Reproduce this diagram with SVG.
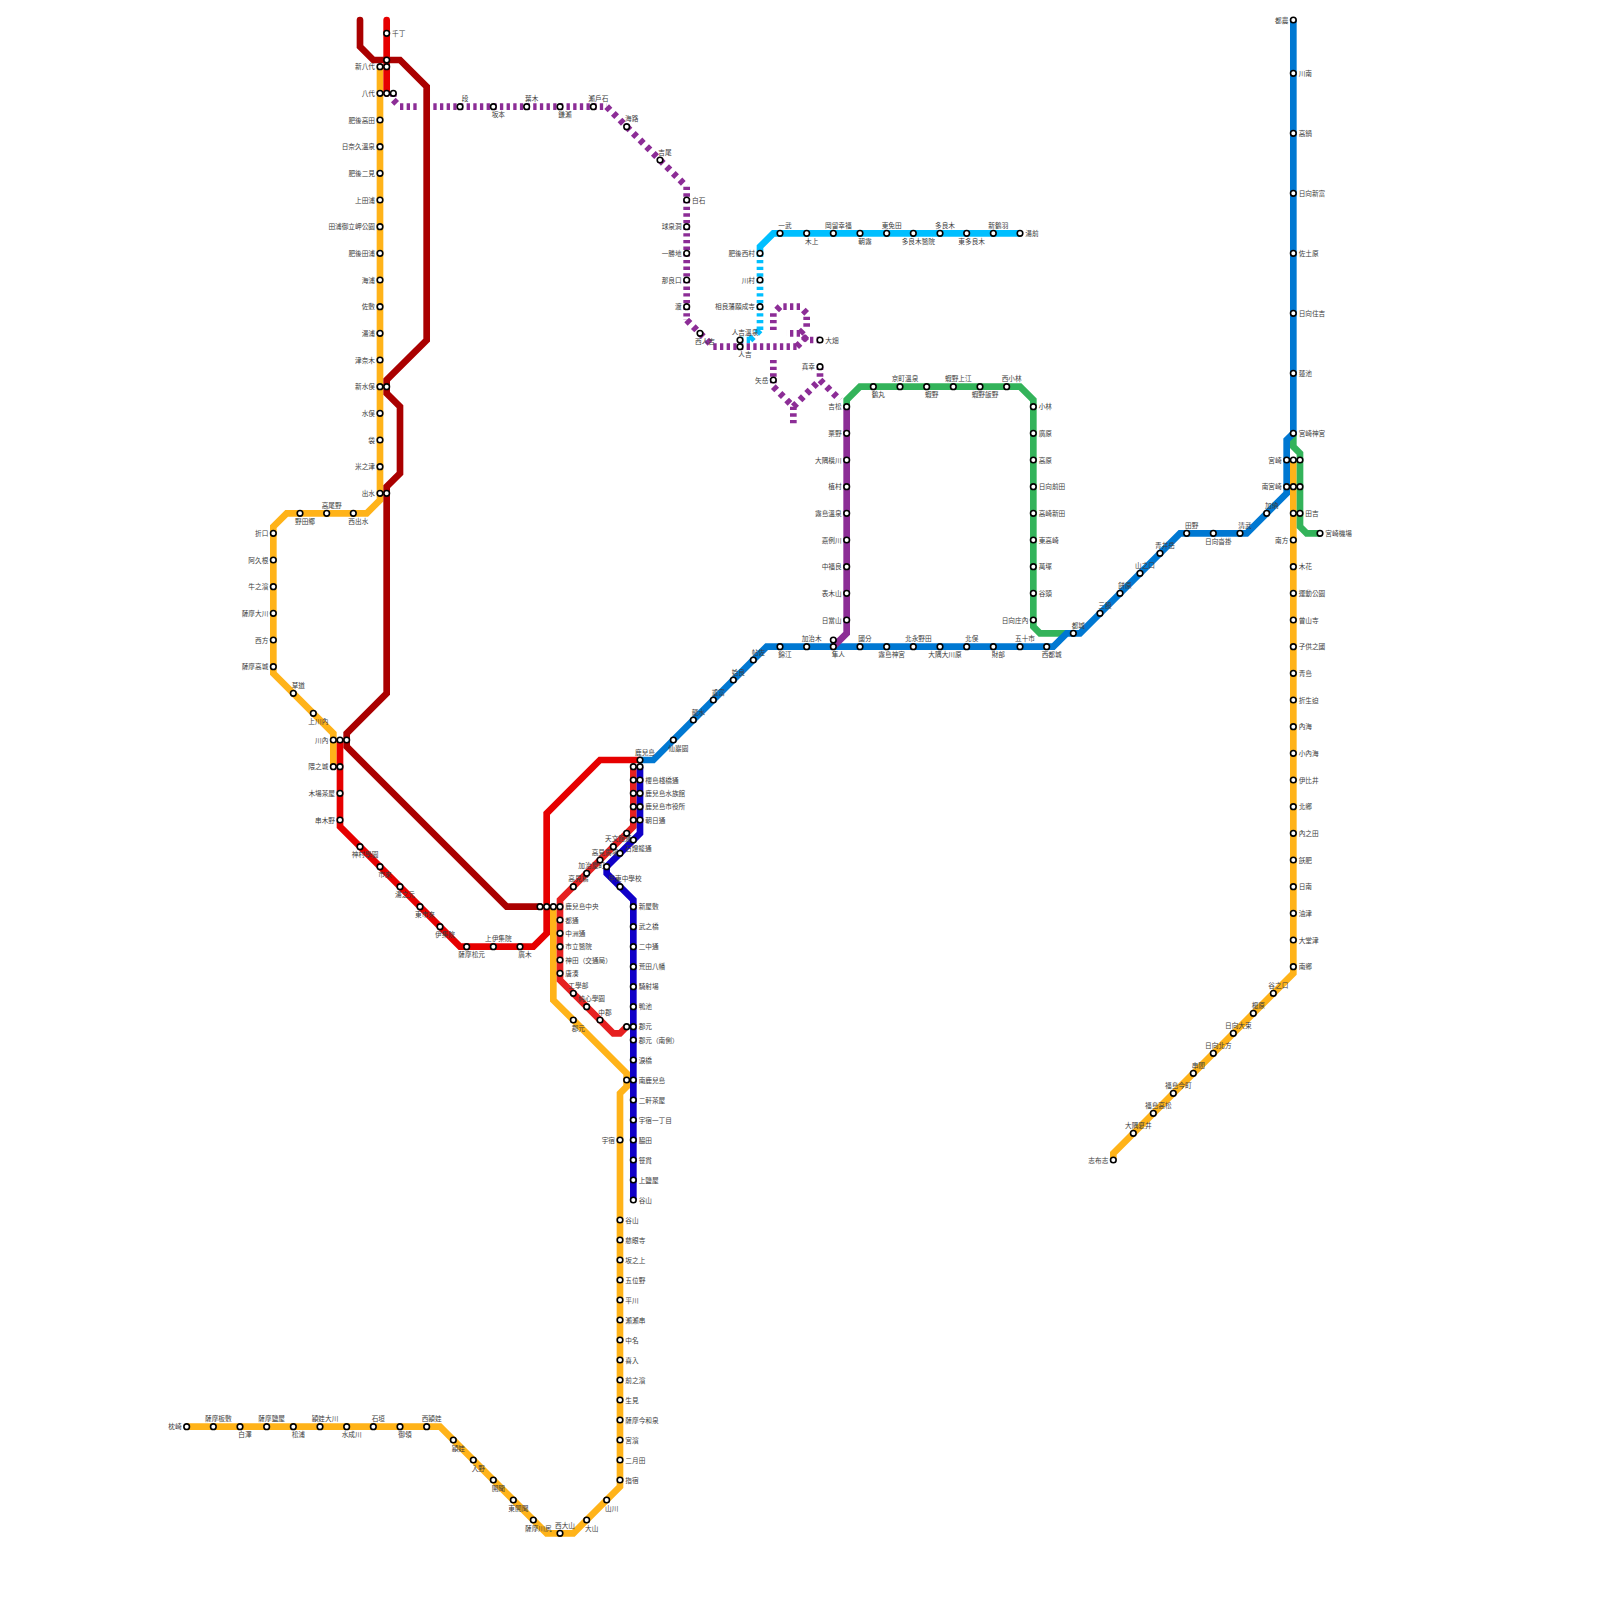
<svg xmlns="http://www.w3.org/2000/svg" width="1600" height="1600" viewBox="0 0 1600 1600">
<style>
text{font-family:"Liberation Sans","Noto Sans CJK TC",sans-serif;font-size:6.67px;fill:#3c3c3c;dominant-baseline:central}
.l{text-anchor:end}.c{text-anchor:middle}
#lines path{fill:none;stroke-width:6.67;stroke-linejoin:miter}
.y{stroke:#ffb319}.d{stroke:#aa0000;stroke-linecap:round}.r{stroke:#e60000;stroke-linecap:round}.t{stroke:#e62020}.b{stroke:#0078d2}.u{stroke:#1000c8}.g{stroke:#33b35a}.p{stroke:#8c2d96}.k{stroke:#00bfff}
.da{stroke-dasharray:3.33 3.33}.db{stroke-dasharray:4.71 4.71}
</style>
<defs><circle id="s" r="2.8" fill="#fff" stroke="#000" stroke-width="1.6"/></defs>
<rect width="1600" height="1600" fill="#fff"/>
<g id="lines">
<path class="y" d="M380 66.67V500L366.67 513.33H286.67L273.33 526.67V673.33L333.33 733.33V766.67"/>
<path class="y" d="M553.33 906.67V1000L626.67 1073.33V1086.67L620 1093.33V1486.67L573.33 1533.33H546.67L440 1426.67H186.67"/>
<path class="y" d="M1293.33 460V973.33L1113.33 1153.33V1160"/>
<path class="r" d="M386.67 20V93.33"/>
<path class="r" style="stroke-linecap:butt" d="M340 740V826.67L460 946.67H533.33L546.67 933.33V813.33L600 760H640"/>
<path class="d" d="M360 20V46.67L373.33 60H400L426.67 86.67V340L386.67 380V393.33L400 406.67V473.33L386.67 486.67V693.33L346.67 733.33V746.67L506.67 906.67H540"/>
<path class="t" d="M633.33 766.67V826.67L560 900V980L613.33 1033.33H620L626.67 1026.67"/>
<path class="u" d="M640 766.67V833.33L606.67 866.67V873.33L633.33 900V1200"/>
<path class="g" d="M1293.33 433.33V446.67L1300 453.33V526.67L1306.67 533.33H1320"/>
<path class="g" d="M846.67 406.67V400L860 386.67H1020L1033.33 400V626.67L1040 633.33H1066.67"/>
<path class="b" d="M1293.33 20V433.33L1286.67 440V493.33L1246.67 533.33H1180L1080 633.33H1066.67L1053.33 646.67H766.67L653.33 760H640"/>
<path class="p" d="M846.67 406.67V633.33L833.33 646.67"/>
<path class="k" d="M760 253.33V246.67L773.33 233.33H1020"/>
<path class="k da" d="M760 253.33V330M750 340H740"/>
<path class="k db" d="M760 330L750 340"/>
<path class="p da" d="M393.33 93.33V100M400 106.67H416.67M433.33 106.67H606.67M686.67 186.67V320M713.33 346.67H796.67M820 340H806.67M800 333.33H786.67M806.67 326.67V313.33M800 306.67H780M773.33 313.33V330M773.33 360V386.67M793.33 406.67V423.33M820 366.67V380"/>
<path class="p db" d="M393.33 100L400 106.67M606.67 106.67L686.67 186.67M686.67 320L713.33 346.67M796.67 346.67L806.67 336.67M806.67 340L800 333.33M800 333.33L806.67 326.67M806.67 313.33L800 306.67M780 306.67L773.33 313.33M773.33 386.67L793.33 406.67M793.33 406.67L820 380M820 380L840 400"/>
</g>
<g id="n1"><use href="#s" x="386.67" y="33.33"/><text x="392" y="33.33">千丁</text></g>
<g id="n2"><use href="#s" x="380" y="66.67"/><text class="l" x="375" y="66.67">新八代</text></g>
<g id="n3"><use href="#s" x="386.67" y="60"/></g>
<g id="n4"><use href="#s" x="386.67" y="66.67"/></g>
<g id="n5"><use href="#s" x="380" y="93.33"/><text class="l" x="375" y="93.33">八代</text></g>
<g id="n6"><use href="#s" x="386.67" y="93.33"/></g>
<g id="n7"><use href="#s" x="393.33" y="93.33"/></g>
<g id="n8"><use href="#s" x="380" y="120"/><text class="l" x="375" y="120">肥後高田</text></g>
<g id="n9"><use href="#s" x="380" y="146.67"/><text class="l" x="375" y="146.67">日奈久溫泉</text></g>
<g id="n10"><use href="#s" x="380" y="173.33"/><text class="l" x="375" y="173.33">肥後二見</text></g>
<g id="n11"><use href="#s" x="380" y="200"/><text class="l" x="375" y="200">上田浦</text></g>
<g id="n12"><use href="#s" x="380" y="226.67"/><text class="l" x="375" y="226.67">田浦御立岬公園</text></g>
<g id="n13"><use href="#s" x="380" y="253.33"/><text class="l" x="375" y="253.33">肥後田浦</text></g>
<g id="n14"><use href="#s" x="380" y="280"/><text class="l" x="375" y="280">海浦</text></g>
<g id="n15"><use href="#s" x="380" y="306.67"/><text class="l" x="375" y="306.67">佐敷</text></g>
<g id="n16"><use href="#s" x="380" y="333.33"/><text class="l" x="375" y="333.33">湯浦</text></g>
<g id="n17"><use href="#s" x="380" y="360"/><text class="l" x="375" y="360">津奈木</text></g>
<g id="n18"><use href="#s" x="380" y="386.67"/><text class="l" x="375" y="386.67">新水俣</text></g>
<g id="n19"><use href="#s" x="386.67" y="386.67"/></g>
<g id="n20"><use href="#s" x="380" y="413.33"/><text class="l" x="375" y="413.33">水俣</text></g>
<g id="n21"><use href="#s" x="380" y="440"/><text class="l" x="375" y="440">袋</text></g>
<g id="n22"><use href="#s" x="380" y="466.67"/><text class="l" x="375" y="466.67">米之津</text></g>
<g id="n23"><use href="#s" x="380" y="493.33"/><text class="l" x="375" y="493.33">出水</text></g>
<g id="n24"><use href="#s" x="386.67" y="493.33"/></g>
<g id="n25"><use href="#s" x="353.33" y="513.33"/><text class="c" x="358.33" y="521.33">西出水</text></g>
<g id="n26"><use href="#s" x="326.67" y="513.33"/><text class="c" x="331.67" y="505.33">高尾野</text></g>
<g id="n27"><use href="#s" x="300" y="513.33"/><text class="c" x="305" y="521.33">野田郷</text></g>
<g id="n28"><use href="#s" x="273.33" y="533.33"/><text class="l" x="268.33" y="533.33">折口</text></g>
<g id="n29"><use href="#s" x="273.33" y="560"/><text class="l" x="268.33" y="560">阿久根</text></g>
<g id="n30"><use href="#s" x="273.33" y="586.67"/><text class="l" x="268.33" y="586.67">牛之濱</text></g>
<g id="n31"><use href="#s" x="273.33" y="613.33"/><text class="l" x="268.33" y="613.33">薩摩大川</text></g>
<g id="n32"><use href="#s" x="273.33" y="640"/><text class="l" x="268.33" y="640">西方</text></g>
<g id="n33"><use href="#s" x="273.33" y="666.67"/><text class="l" x="268.33" y="666.67">薩摩高城</text></g>
<g id="n34"><use href="#s" x="293.33" y="693.33"/><text class="c" x="298.33" y="685.33">草道</text></g>
<g id="n35"><use href="#s" x="313.33" y="713.33"/><text class="c" x="318.33" y="721.33">上川內</text></g>
<g id="n36"><use href="#s" x="333.33" y="740"/><text class="l" x="328.33" y="740">川內</text></g>
<g id="n37"><use href="#s" x="340" y="740"/></g>
<g id="n38"><use href="#s" x="346.67" y="740"/></g>
<g id="n39"><use href="#s" x="333.33" y="766.67"/><text class="l" x="328.33" y="766.67">隈之城</text></g>
<g id="n40"><use href="#s" x="340" y="766.67"/></g>
<g id="n41"><use href="#s" x="340" y="793.33"/><text class="l" x="335" y="793.33">木場茶屋</text></g>
<g id="n42"><use href="#s" x="340" y="820"/><text class="l" x="335" y="820">串木野</text></g>
<g id="n43"><use href="#s" x="360" y="846.67"/><text class="c" x="365" y="854.67">神村學園</text></g>
<g id="n44"><use href="#s" x="380" y="866.67"/><text class="c" x="385" y="874.67">市來</text></g>
<g id="n45"><use href="#s" x="400" y="886.67"/><text class="c" x="405" y="894.67">湯之元</text></g>
<g id="n46"><use href="#s" x="420" y="906.67"/><text class="c" x="425" y="914.67">東市來</text></g>
<g id="n47"><use href="#s" x="440" y="926.67"/><text class="c" x="445" y="934.67">伊集院</text></g>
<g id="n48"><use href="#s" x="466.67" y="946.67"/><text class="c" x="471.67" y="954.67">薩摩松元</text></g>
<g id="n49"><use href="#s" x="493.33" y="946.67"/><text class="c" x="498.33" y="938.67">上伊集院</text></g>
<g id="n50"><use href="#s" x="520" y="946.67"/><text class="c" x="525" y="954.67">廣木</text></g>
<g id="n51"><use href="#s" x="540" y="906.67"/></g>
<g id="n52"><use href="#s" x="546.67" y="906.67"/></g>
<g id="n53"><use href="#s" x="553.33" y="906.67"/></g>
<g id="n54"><use href="#s" x="560" y="906.67"/><text x="565.33" y="906.67">鹿兒島中央</text></g>
<g id="n55"><use href="#s" x="560" y="920"/><text x="565.33" y="920">都通</text></g>
<g id="n56"><use href="#s" x="560" y="933.33"/><text x="565.33" y="933.33">中洲通</text></g>
<g id="n57"><use href="#s" x="560" y="946.67"/><text x="565.33" y="946.67">市立醫院</text></g>
<g id="n58"><use href="#s" x="560" y="960"/><text x="565.33" y="960">神田（交通局）</text></g>
<g id="n59"><use href="#s" x="560" y="973.33"/><text x="565.33" y="973.33">唐湊</text></g>
<g id="n60"><use href="#s" x="573.33" y="993.33"/><text class="c" x="578.33" y="985.33">工學部</text></g>
<g id="n61"><use href="#s" x="586.67" y="1006.67"/><text class="c" x="591.67" y="998.67">純心學園</text></g>
<g id="n62"><use href="#s" x="600" y="1020"/><text class="c" x="605" y="1012">中郡</text></g>
<g id="n63"><use href="#s" x="573.33" y="1020"/><text class="c" x="578.33" y="1028">郡元</text></g>
<g id="n64"><use href="#s" x="626.67" y="1026.67"/></g>
<g id="n65"><use href="#s" x="626.67" y="1080"/></g>
<g id="n66"><use href="#s" x="573.33" y="886.67"/><text class="c" x="578.33" y="878.67">高見橋</text></g>
<g id="n67"><use href="#s" x="586.67" y="873.33"/><text class="c" x="591.67" y="865.33">加治屋町</text></g>
<g id="n68"><use href="#s" x="600" y="860"/><text class="c" x="605" y="852">高見馬場</text></g>
<g id="n69"><use href="#s" x="613.33" y="846.67"/><text class="c" x="618.33" y="838.67">天文館通</text></g>
<g id="n70"><use href="#s" x="626.67" y="833.33"/></g>
<g id="n71"><use href="#s" x="633.33" y="840"/><text class="c" x="638.33" y="848">石燈籠通</text></g>
<g id="n72"><use href="#s" x="620" y="853.33"/></g>
<g id="n73"><use href="#s" x="606.67" y="866.67"/></g>
<g id="n74"><use href="#s" x="620" y="886.67"/><text class="c" x="625" y="878.67">甲東中學校</text></g>
<g id="n75"><use href="#s" x="640" y="760"/><text class="c" x="645" y="752">鹿兒島</text></g>
<g id="n76"><use href="#s" x="633.33" y="766.67"/></g>
<g id="n77"><use href="#s" x="640" y="766.67"/></g>
<g id="n78"><use href="#s" x="633.33" y="780"/></g>
<g id="n79"><use href="#s" x="640" y="780"/><text x="645.33" y="780">櫻島棧橋通</text></g>
<g id="n80"><use href="#s" x="633.33" y="793.33"/></g>
<g id="n81"><use href="#s" x="640" y="793.33"/><text x="645.33" y="793.33">鹿兒島水族館</text></g>
<g id="n82"><use href="#s" x="633.33" y="806.67"/></g>
<g id="n83"><use href="#s" x="640" y="806.67"/><text x="645.33" y="806.67">鹿兒島市役所</text></g>
<g id="n84"><use href="#s" x="633.33" y="820"/></g>
<g id="n85"><use href="#s" x="640" y="820"/><text x="645.33" y="820">朝日通</text></g>
<g id="n86"><use href="#s" x="633.33" y="906.67"/><text x="638.67" y="906.67">新屋敷</text></g>
<g id="n87"><use href="#s" x="633.33" y="926.67"/><text x="638.67" y="926.67">武之橋</text></g>
<g id="n88"><use href="#s" x="633.33" y="946.67"/><text x="638.67" y="946.67">二中通</text></g>
<g id="n89"><use href="#s" x="633.33" y="966.67"/><text x="638.67" y="966.67">荒田八幡</text></g>
<g id="n90"><use href="#s" x="633.33" y="986.67"/><text x="638.67" y="986.67">騎射場</text></g>
<g id="n91"><use href="#s" x="633.33" y="1006.67"/><text x="638.67" y="1006.67">鴨池</text></g>
<g id="n92"><use href="#s" x="633.33" y="1026.67"/><text x="638.67" y="1026.67">郡元</text></g>
<g id="n93"><use href="#s" x="633.33" y="1040"/><text x="638.67" y="1040">郡元（南側）</text></g>
<g id="n94"><use href="#s" x="633.33" y="1060"/><text x="638.67" y="1060">淚橋</text></g>
<g id="n95"><use href="#s" x="633.33" y="1080"/><text x="638.67" y="1080">南鹿兒島</text></g>
<g id="n96"><use href="#s" x="633.33" y="1100"/><text x="638.67" y="1100">二軒茶屋</text></g>
<g id="n97"><use href="#s" x="633.33" y="1120"/><text x="638.67" y="1120">宇宿一丁目</text></g>
<g id="n98"><use href="#s" x="633.33" y="1140"/><text x="638.67" y="1140">脇田</text></g>
<g id="n99"><use href="#s" x="633.33" y="1160"/><text x="638.67" y="1160">笹貫</text></g>
<g id="n100"><use href="#s" x="633.33" y="1180"/><text x="638.67" y="1180">上鹽屋</text></g>
<g id="n101"><use href="#s" x="633.33" y="1200"/><text x="638.67" y="1200">谷山</text></g>
<g id="n102"><use href="#s" x="620" y="1140"/><text class="l" x="615" y="1140">宇宿</text></g>
<g id="n103"><use href="#s" x="620" y="1220"/><text x="625.33" y="1220">谷山</text></g>
<g id="n104"><use href="#s" x="620" y="1240"/><text x="625.33" y="1240">慈眼寺</text></g>
<g id="n105"><use href="#s" x="620" y="1260"/><text x="625.33" y="1260">坂之上</text></g>
<g id="n106"><use href="#s" x="620" y="1280"/><text x="625.33" y="1280">五位野</text></g>
<g id="n107"><use href="#s" x="620" y="1300"/><text x="625.33" y="1300">平川</text></g>
<g id="n108"><use href="#s" x="620" y="1320"/><text x="625.33" y="1320">瀨瀨串</text></g>
<g id="n109"><use href="#s" x="620" y="1340"/><text x="625.33" y="1340">中名</text></g>
<g id="n110"><use href="#s" x="620" y="1360"/><text x="625.33" y="1360">喜入</text></g>
<g id="n111"><use href="#s" x="620" y="1380"/><text x="625.33" y="1380">前之濱</text></g>
<g id="n112"><use href="#s" x="620" y="1400"/><text x="625.33" y="1400">生見</text></g>
<g id="n113"><use href="#s" x="620" y="1420"/><text x="625.33" y="1420">薩摩今和泉</text></g>
<g id="n114"><use href="#s" x="620" y="1440"/><text x="625.33" y="1440">宮濱</text></g>
<g id="n115"><use href="#s" x="620" y="1460"/><text x="625.33" y="1460">二月田</text></g>
<g id="n116"><use href="#s" x="620" y="1480"/><text x="625.33" y="1480">指宿</text></g>
<g id="n117"><use href="#s" x="606.67" y="1500"/><text class="c" x="611.67" y="1508">山川</text></g>
<g id="n118"><use href="#s" x="586.67" y="1520"/><text class="c" x="591.67" y="1528">大山</text></g>
<g id="n119"><use href="#s" x="560" y="1533.33"/><text class="c" x="565" y="1525.33">西大山</text></g>
<g id="n120"><use href="#s" x="533.33" y="1520"/><text class="c" x="538.33" y="1528">薩摩川尻</text></g>
<g id="n121"><use href="#s" x="513.33" y="1500"/><text class="c" x="518.33" y="1508">東開聞</text></g>
<g id="n122"><use href="#s" x="493.33" y="1480"/><text class="c" x="498.33" y="1488">開聞</text></g>
<g id="n123"><use href="#s" x="473.33" y="1460"/><text class="c" x="478.33" y="1468">入野</text></g>
<g id="n124"><use href="#s" x="453.33" y="1440"/><text class="c" x="458.33" y="1448">頴娃</text></g>
<g id="n125"><use href="#s" x="426.67" y="1426.67"/><text class="c" x="431.67" y="1418.67">西頴娃</text></g>
<g id="n126"><use href="#s" x="400" y="1426.67"/><text class="c" x="405" y="1434.67">御領</text></g>
<g id="n127"><use href="#s" x="373.33" y="1426.67"/><text class="c" x="378.33" y="1418.67">石垣</text></g>
<g id="n128"><use href="#s" x="346.67" y="1426.67"/><text class="c" x="351.67" y="1434.67">水成川</text></g>
<g id="n129"><use href="#s" x="320" y="1426.67"/><text class="c" x="325" y="1418.67">頴娃大川</text></g>
<g id="n130"><use href="#s" x="293.33" y="1426.67"/><text class="c" x="298.33" y="1434.67">松浦</text></g>
<g id="n131"><use href="#s" x="266.67" y="1426.67"/><text class="c" x="271.67" y="1418.67">薩摩鹽屋</text></g>
<g id="n132"><use href="#s" x="240" y="1426.67"/><text class="c" x="245" y="1434.67">白澤</text></g>
<g id="n133"><use href="#s" x="213.33" y="1426.67"/><text class="c" x="218.33" y="1418.67">薩摩板敷</text></g>
<g id="n134"><use href="#s" x="186.67" y="1426.67"/><text class="l" x="181.67" y="1426.67">枕崎</text></g>
<g id="n135"><use href="#s" x="460" y="106.67"/><text class="c" x="465" y="98.67">段</text></g>
<g id="n136"><use href="#s" x="493.33" y="106.67"/><text class="c" x="498.33" y="114.67">坂本</text></g>
<g id="n137"><use href="#s" x="526.67" y="106.67"/><text class="c" x="531.67" y="98.67">葉木</text></g>
<g id="n138"><use href="#s" x="560" y="106.67"/><text class="c" x="565" y="114.67">鎌瀨</text></g>
<g id="n139"><use href="#s" x="593.33" y="106.67"/><text class="c" x="598.33" y="98.67">瀨戶石</text></g>
<g id="n140"><use href="#s" x="626.67" y="126.67"/><text class="c" x="631.67" y="118.67">海路</text></g>
<g id="n141"><use href="#s" x="660" y="160"/><text class="c" x="665" y="152">吉尾</text></g>
<g id="n142"><use href="#s" x="686.67" y="200"/><text x="692" y="200">白石</text></g>
<g id="n143"><use href="#s" x="686.67" y="226.67"/><text class="l" x="681.67" y="226.67">球泉洞</text></g>
<g id="n144"><use href="#s" x="686.67" y="253.33"/><text class="l" x="681.67" y="253.33">一勝地</text></g>
<g id="n145"><use href="#s" x="686.67" y="280"/><text class="l" x="681.67" y="280">那良口</text></g>
<g id="n146"><use href="#s" x="686.67" y="306.67"/><text class="l" x="681.67" y="306.67">渡</text></g>
<g id="n147"><use href="#s" x="700" y="333.33"/><text class="c" x="705" y="341.33">西人吉</text></g>
<g id="n148"><use href="#s" x="740" y="340"/><text class="c" x="745" y="332">人吉溫泉</text></g>
<g id="n149"><use href="#s" x="740" y="346.67"/><text class="c" x="745" y="354.67">人吉</text></g>
<g id="n150"><use href="#s" x="820" y="340"/><text x="825.33" y="340">大畑</text></g>
<g id="n151"><use href="#s" x="820" y="366.67"/><text class="l" x="815" y="366.67">真幸</text></g>
<g id="n152"><use href="#s" x="773.33" y="380"/><text class="l" x="768.33" y="380">矢岳</text></g>
<g id="n153"><use href="#s" x="760" y="253.33"/><text class="l" x="755" y="253.33">肥後西村</text></g>
<g id="n154"><use href="#s" x="760" y="280"/><text class="l" x="755" y="280">川村</text></g>
<g id="n155"><use href="#s" x="760" y="306.67"/><text class="l" x="755" y="306.67">相良藩願成寺</text></g>
<g id="n156"><use href="#s" x="780" y="233.33"/><text class="c" x="785" y="225.33">一武</text></g>
<g id="n157"><use href="#s" x="806.67" y="233.33"/><text class="c" x="811.67" y="241.33">木上</text></g>
<g id="n158"><use href="#s" x="833.33" y="233.33"/><text class="c" x="838.33" y="225.33">岡留幸福</text></g>
<g id="n159"><use href="#s" x="860" y="233.33"/><text class="c" x="865" y="241.33">朝霧</text></g>
<g id="n160"><use href="#s" x="886.67" y="233.33"/><text class="c" x="891.67" y="225.33">東免田</text></g>
<g id="n161"><use href="#s" x="913.33" y="233.33"/><text class="c" x="918.33" y="241.33">多良木醫院</text></g>
<g id="n162"><use href="#s" x="940" y="233.33"/><text class="c" x="945" y="225.33">多良木</text></g>
<g id="n163"><use href="#s" x="966.67" y="233.33"/><text class="c" x="971.67" y="241.33">東多良木</text></g>
<g id="n164"><use href="#s" x="993.33" y="233.33"/><text class="c" x="998.33" y="225.33">新鶴羽</text></g>
<g id="n165"><use href="#s" x="1020" y="233.33"/><text x="1025.33" y="233.33">湯前</text></g>
<g id="n166"><use href="#s" x="846.67" y="406.67"/><text class="l" x="841.67" y="406.67">吉松</text></g>
<g id="n167"><use href="#s" x="846.67" y="433.33"/><text class="l" x="841.67" y="433.33">栗野</text></g>
<g id="n168"><use href="#s" x="846.67" y="460"/><text class="l" x="841.67" y="460">大隅橫川</text></g>
<g id="n169"><use href="#s" x="846.67" y="486.67"/><text class="l" x="841.67" y="486.67">植村</text></g>
<g id="n170"><use href="#s" x="846.67" y="513.33"/><text class="l" x="841.67" y="513.33">霧島溫泉</text></g>
<g id="n171"><use href="#s" x="846.67" y="540"/><text class="l" x="841.67" y="540">嘉例川</text></g>
<g id="n172"><use href="#s" x="846.67" y="566.67"/><text class="l" x="841.67" y="566.67">中福良</text></g>
<g id="n173"><use href="#s" x="846.67" y="593.33"/><text class="l" x="841.67" y="593.33">表木山</text></g>
<g id="n174"><use href="#s" x="846.67" y="620"/><text class="l" x="841.67" y="620">日當山</text></g>
<g id="n175"><use href="#s" x="833.33" y="640"/></g>
<g id="n176"><use href="#s" x="873.33" y="386.67"/><text class="c" x="878.33" y="394.67">鶴丸</text></g>
<g id="n177"><use href="#s" x="900" y="386.67"/><text class="c" x="905" y="378.67">京町溫泉</text></g>
<g id="n178"><use href="#s" x="926.67" y="386.67"/><text class="c" x="931.67" y="394.67">蝦野</text></g>
<g id="n179"><use href="#s" x="953.33" y="386.67"/><text class="c" x="958.33" y="378.67">蝦野上江</text></g>
<g id="n180"><use href="#s" x="980" y="386.67"/><text class="c" x="985" y="394.67">蝦野飯野</text></g>
<g id="n181"><use href="#s" x="1006.67" y="386.67"/><text class="c" x="1011.67" y="378.67">西小林</text></g>
<g id="n182"><use href="#s" x="1033.33" y="406.67"/><text x="1038.67" y="406.67">小林</text></g>
<g id="n183"><use href="#s" x="1033.33" y="433.33"/><text x="1038.67" y="433.33">廣原</text></g>
<g id="n184"><use href="#s" x="1033.33" y="460"/><text x="1038.67" y="460">高原</text></g>
<g id="n185"><use href="#s" x="1033.33" y="486.67"/><text x="1038.67" y="486.67">日向前田</text></g>
<g id="n186"><use href="#s" x="1033.33" y="513.33"/><text x="1038.67" y="513.33">高崎新田</text></g>
<g id="n187"><use href="#s" x="1033.33" y="540"/><text x="1038.67" y="540">東高崎</text></g>
<g id="n188"><use href="#s" x="1033.33" y="566.67"/><text x="1038.67" y="566.67">萬塚</text></g>
<g id="n189"><use href="#s" x="1033.33" y="593.33"/><text x="1038.67" y="593.33">谷頭</text></g>
<g id="n190"><use href="#s" x="1033.33" y="620"/><text class="l" x="1028.33" y="620">日向庄內</text></g>
<g id="n191"><use href="#s" x="673.33" y="740"/><text class="c" x="678.33" y="748">仙巖園</text></g>
<g id="n192"><use href="#s" x="693.33" y="720"/><text class="c" x="698.33" y="712">龍水</text></g>
<g id="n193"><use href="#s" x="713.33" y="700"/><text class="c" x="718.33" y="692">重富</text></g>
<g id="n194"><use href="#s" x="733.33" y="680"/><text class="c" x="738.33" y="672">姶良</text></g>
<g id="n195"><use href="#s" x="753.33" y="660"/><text class="c" x="758.33" y="652">帖佐</text></g>
<g id="n196"><use href="#s" x="780" y="646.67"/><text class="c" x="785" y="654.67">錦江</text></g>
<g id="n197"><use href="#s" x="806.67" y="646.67"/><text class="c" x="811.67" y="638.67">加治木</text></g>
<g id="n198"><use href="#s" x="833.33" y="646.67"/><text class="c" x="838.33" y="654.67">隼人</text></g>
<g id="n199"><use href="#s" x="860" y="646.67"/><text class="c" x="865" y="638.67">國分</text></g>
<g id="n200"><use href="#s" x="886.67" y="646.67"/><text class="c" x="891.67" y="654.67">霧島神宮</text></g>
<g id="n201"><use href="#s" x="913.33" y="646.67"/><text class="c" x="918.33" y="638.67">北永野田</text></g>
<g id="n202"><use href="#s" x="940" y="646.67"/><text class="c" x="945" y="654.67">大隅大川原</text></g>
<g id="n203"><use href="#s" x="966.67" y="646.67"/><text class="c" x="971.67" y="638.67">北俣</text></g>
<g id="n204"><use href="#s" x="993.33" y="646.67"/><text class="c" x="998.33" y="654.67">財部</text></g>
<g id="n205"><use href="#s" x="1020" y="646.67"/><text class="c" x="1025" y="638.67">五十市</text></g>
<g id="n206"><use href="#s" x="1046.67" y="646.67"/><text class="c" x="1051.67" y="654.67">西都城</text></g>
<g id="n207"><use href="#s" x="1073.33" y="633.33"/><text class="c" x="1078.33" y="625.33">都城</text></g>
<g id="n208"><use href="#s" x="1100" y="613.33"/><text class="c" x="1105" y="605.33">三股</text></g>
<g id="n209"><use href="#s" x="1120" y="593.33"/><text class="c" x="1125" y="585.33">餅原</text></g>
<g id="n210"><use href="#s" x="1140" y="573.33"/><text class="c" x="1145" y="565.33">山之口</text></g>
<g id="n211"><use href="#s" x="1160" y="553.33"/><text class="c" x="1165" y="545.33">青井岳</text></g>
<g id="n212"><use href="#s" x="1186.67" y="533.33"/><text class="c" x="1191.67" y="525.33">田野</text></g>
<g id="n213"><use href="#s" x="1213.33" y="533.33"/><text class="c" x="1218.33" y="541.33">日向沓掛</text></g>
<g id="n214"><use href="#s" x="1240" y="533.33"/><text class="c" x="1245" y="525.33">清武</text></g>
<g id="n215"><use href="#s" x="1266.67" y="513.33"/><text class="c" x="1271.67" y="505.33">加納</text></g>
<g id="n216"><use href="#s" x="1286.67" y="486.67"/><text class="l" x="1281.67" y="486.67">南宮崎</text></g>
<g id="n217"><use href="#s" x="1293.33" y="486.67"/></g>
<g id="n218"><use href="#s" x="1300" y="486.67"/></g>
<g id="n219"><use href="#s" x="1286.67" y="460"/><text class="l" x="1281.67" y="460">宮崎</text></g>
<g id="n220"><use href="#s" x="1293.33" y="460"/></g>
<g id="n221"><use href="#s" x="1300" y="460"/></g>
<g id="n222"><use href="#s" x="1293.33" y="513.33"/></g>
<g id="n223"><use href="#s" x="1300" y="513.33"/><text x="1305.33" y="513.33">田吉</text></g>
<g id="n224"><use href="#s" x="1320" y="533.33"/><text x="1325.33" y="533.33">宮崎機場</text></g>
<g id="n225"><use href="#s" x="1293.33" y="20"/><text class="l" x="1288.33" y="20">都農</text></g>
<g id="n226"><use href="#s" x="1293.33" y="73.33"/><text x="1298.67" y="73.33">川南</text></g>
<g id="n227"><use href="#s" x="1293.33" y="133.33"/><text x="1298.67" y="133.33">高鍋</text></g>
<g id="n228"><use href="#s" x="1293.33" y="193.33"/><text x="1298.67" y="193.33">日向新富</text></g>
<g id="n229"><use href="#s" x="1293.33" y="253.33"/><text x="1298.67" y="253.33">佐土原</text></g>
<g id="n230"><use href="#s" x="1293.33" y="313.33"/><text x="1298.67" y="313.33">日向住吉</text></g>
<g id="n231"><use href="#s" x="1293.33" y="373.33"/><text x="1298.67" y="373.33">蓮池</text></g>
<g id="n232"><use href="#s" x="1293.33" y="433.33"/><text x="1298.67" y="433.33">宮崎神宮</text></g>
<g id="n233"><use href="#s" x="1293.33" y="540"/><text class="l" x="1288.33" y="540">南方</text></g>
<g id="n234"><use href="#s" x="1293.33" y="566.67"/><text x="1298.67" y="566.67">木花</text></g>
<g id="n235"><use href="#s" x="1293.33" y="593.33"/><text x="1298.67" y="593.33">運動公園</text></g>
<g id="n236"><use href="#s" x="1293.33" y="620"/><text x="1298.67" y="620">曾山寺</text></g>
<g id="n237"><use href="#s" x="1293.33" y="646.67"/><text x="1298.67" y="646.67">子供之國</text></g>
<g id="n238"><use href="#s" x="1293.33" y="673.33"/><text x="1298.67" y="673.33">青島</text></g>
<g id="n239"><use href="#s" x="1293.33" y="700"/><text x="1298.67" y="700">折生迫</text></g>
<g id="n240"><use href="#s" x="1293.33" y="726.67"/><text x="1298.67" y="726.67">內海</text></g>
<g id="n241"><use href="#s" x="1293.33" y="753.33"/><text x="1298.67" y="753.33">小內海</text></g>
<g id="n242"><use href="#s" x="1293.33" y="780"/><text x="1298.67" y="780">伊比井</text></g>
<g id="n243"><use href="#s" x="1293.33" y="806.67"/><text x="1298.67" y="806.67">北鄉</text></g>
<g id="n244"><use href="#s" x="1293.33" y="833.33"/><text x="1298.67" y="833.33">內之田</text></g>
<g id="n245"><use href="#s" x="1293.33" y="860"/><text x="1298.67" y="860">飫肥</text></g>
<g id="n246"><use href="#s" x="1293.33" y="886.67"/><text x="1298.67" y="886.67">日南</text></g>
<g id="n247"><use href="#s" x="1293.33" y="913.33"/><text x="1298.67" y="913.33">油津</text></g>
<g id="n248"><use href="#s" x="1293.33" y="940"/><text x="1298.67" y="940">大堂津</text></g>
<g id="n249"><use href="#s" x="1293.33" y="966.67"/><text x="1298.67" y="966.67">南鄉</text></g>
<g id="n250"><use href="#s" x="1273.33" y="993.33"/><text class="c" x="1278.33" y="985.33">谷之口</text></g>
<g id="n251"><use href="#s" x="1253.33" y="1013.33"/><text class="c" x="1258.33" y="1005.33">榎原</text></g>
<g id="n252"><use href="#s" x="1233.33" y="1033.33"/><text class="c" x="1238.33" y="1025.33">日向大束</text></g>
<g id="n253"><use href="#s" x="1213.33" y="1053.33"/><text class="c" x="1218.33" y="1045.33">日向北方</text></g>
<g id="n254"><use href="#s" x="1193.33" y="1073.33"/><text class="c" x="1198.33" y="1065.33">串間</text></g>
<g id="n255"><use href="#s" x="1173.33" y="1093.33"/><text class="c" x="1178.33" y="1085.33">福島今町</text></g>
<g id="n256"><use href="#s" x="1153.33" y="1113.33"/><text class="c" x="1158.33" y="1105.33">福島高松</text></g>
<g id="n257"><use href="#s" x="1133.33" y="1133.33"/><text class="c" x="1138.33" y="1125.33">大隅夏井</text></g>
<g id="n258"><use href="#s" x="1113.33" y="1160"/><text class="l" x="1108.33" y="1160">志布志</text></g>
</svg>
